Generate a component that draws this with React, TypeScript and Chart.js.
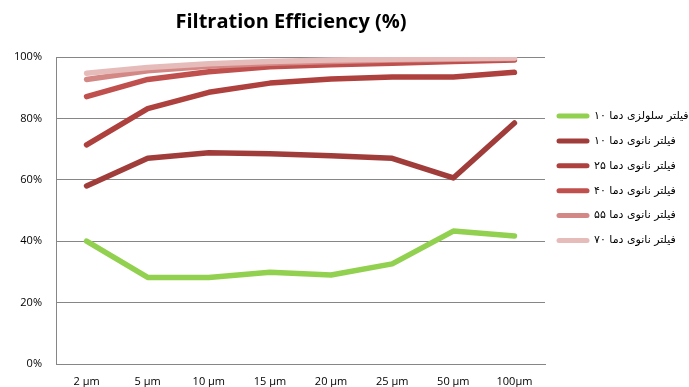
import React, { useEffect, useRef } from "react";
import { Chart, registerables } from "chart.js";

Chart.register(...registerables);

const TITLE = "Filtration Efficiency (%)";

const particleSizes = ["2 µm", "5 µm", "10 µm", "15 µm", "20 µm", "25 µm", "50 µm", "100µm"];

const seriesLabels = [
  "فیلتر سلولزی دما ۱۰",
  "فیلتر نانوی دما ۱۰",
  "فیلتر نانوی دما ۲۵",
  "فیلتر نانوی دما ۴۰",
  "فیلتر نانوی دما ۵۵",
  "فیلتر نانوی دما ۷۰",
];

const cellulose10 = [40, 28.2, 28.2, 29.9, 29, 32.6, 43.3, 41.7];
const nano10 = [58, 67, 68.8, 68.5, 67.8, 67, 60.6, 78.5];
const nano25 = [71.4, 83.2, 88.5, 91.5, 92.8, 93.5, 93.5, 95];
const nano40 = [87.1, 92.7, 95.2, 96.8, 97.5, 98, 98.5, 99];
const nano55 = [92.7, 95.5, 97, 98, 98.5, 99, 99.3, 99.5];
const nano70 = [94.7, 96.6, 97.8, 98.5, 99, 99.3, 99.5, 99.7];

const seriesValues = [cellulose10, nano10, nano25, nano40, nano55, nano70];
const seriesColors = ["#92D050", "#A03D3A", "#AE403D", "#C0504D", "#D48886", "#E6BCBB"];

const yTicks = [0, 20, 40, 60, 80, 100];

const FONT = "'Open Sans', 'DejaVu Sans', sans-serif";

const titleAndLegend = {
  id: "titleAndLegend",
  afterDraw(chart: any) {
    const ctx = chart.ctx;
    const area = chart.chartArea;
    ctx.save();
    // title
    ctx.fillStyle = "#000000";
    ctx.font = `bold 20px ${FONT}`;
    ctx.textAlign = "center";
    ctx.textBaseline = "middle";
    ctx.fillText(TITLE, 291, 22);

    // legend, stacked on the right of the plot
    const x0 = area.right + 12;
    const rowGap = 24.9;
    const yStart = 116;
    ctx.font = `11px 'DejaVu Sans', sans-serif`;
    chart.data.datasets.forEach((ds: any, i: number) => {
      const y = yStart + i * rowGap;
      ctx.strokeStyle = ds.borderColor;
      ctx.lineWidth = 5;
      ctx.lineCap = "round";
      ctx.beginPath();
      ctx.moveTo(x0 + 2, y);
      ctx.lineTo(x0 + 30, y);
      ctx.stroke();
      ctx.fillStyle = "#000000";
      ctx.direction = "rtl";
      ctx.textAlign = "left";
      ctx.fillText(ds.label, x0 + 37, y);
    });
    ctx.restore();
  },
};

export default function App() {
  const canvasRef = useRef<HTMLCanvasElement | null>(null);

  useEffect(() => {
    const canvas = canvasRef.current;
    if (!canvas) return;
    const n = seriesValues.length;
    const chart = new Chart(canvas, {
      type: "line",
      data: {
        labels: particleSizes,
        datasets: seriesValues.map((values, i) => ({
          label: seriesLabels[i],
          data: values,
          borderColor: seriesColors[i],
          backgroundColor: seriesColors[i],
          borderWidth: 5.5,
          borderCapStyle: "round" as const,
          borderJoinStyle: "round" as const,
          pointRadius: 0,
          pointHoverRadius: 0,
          tension: 0,
          fill: false,
          order: n - 1 - i,
        })),
      },
      options: {
        animation: false,
        responsive: false,
        maintainAspectRatio: false,
        layout: { padding: { top: 57, right: 144, left: 8, bottom: 0 } },
        plugins: {
          legend: { display: false },
          title: { display: false },
          tooltip: { enabled: false },
        },
        scales: {
          x: {
            type: "category",
            offset: true,
            grid: { display: false, drawTicks: false },
            border: { display: true, color: "#868686", width: 1 },
            ticks: {
              color: "#000000",
              font: { family: FONT, size: 11 },
              padding: 11,
              maxRotation: 0,
              autoSkip: false,
            },
            afterFit: (scale: any) => {
              scale.height = 23;
            },
          },
          y: {
            min: 0,
            max: 100,
            grid: { color: "#868686", lineWidth: 1, drawTicks: false },
            border: { display: true, color: "#868686", width: 1 },
            afterBuildTicks: (scale: any) => {
              scale.ticks = yTicks.map((v) => ({ value: v }));
            },
            ticks: {
              color: "#000000",
              font: { family: FONT, size: 11 },
              padding: 14,
              callback: (v: any) => `${v}%`,
            },
            afterFit: (scale: any) => {
              scale.width = 48;
            },
          },
        },
      },
      plugins: [titleAndLegend],
    });
    return () => chart.destroy();
  }, []);

  return (
    <div style={{ position: "absolute", left: 0, top: 0, width: 689, height: 387, background: "#ffffff" }}>
      <canvas ref={canvasRef} width={689} height={387} style={{ width: 689, height: 387 }} />
    </div>
  );
}
